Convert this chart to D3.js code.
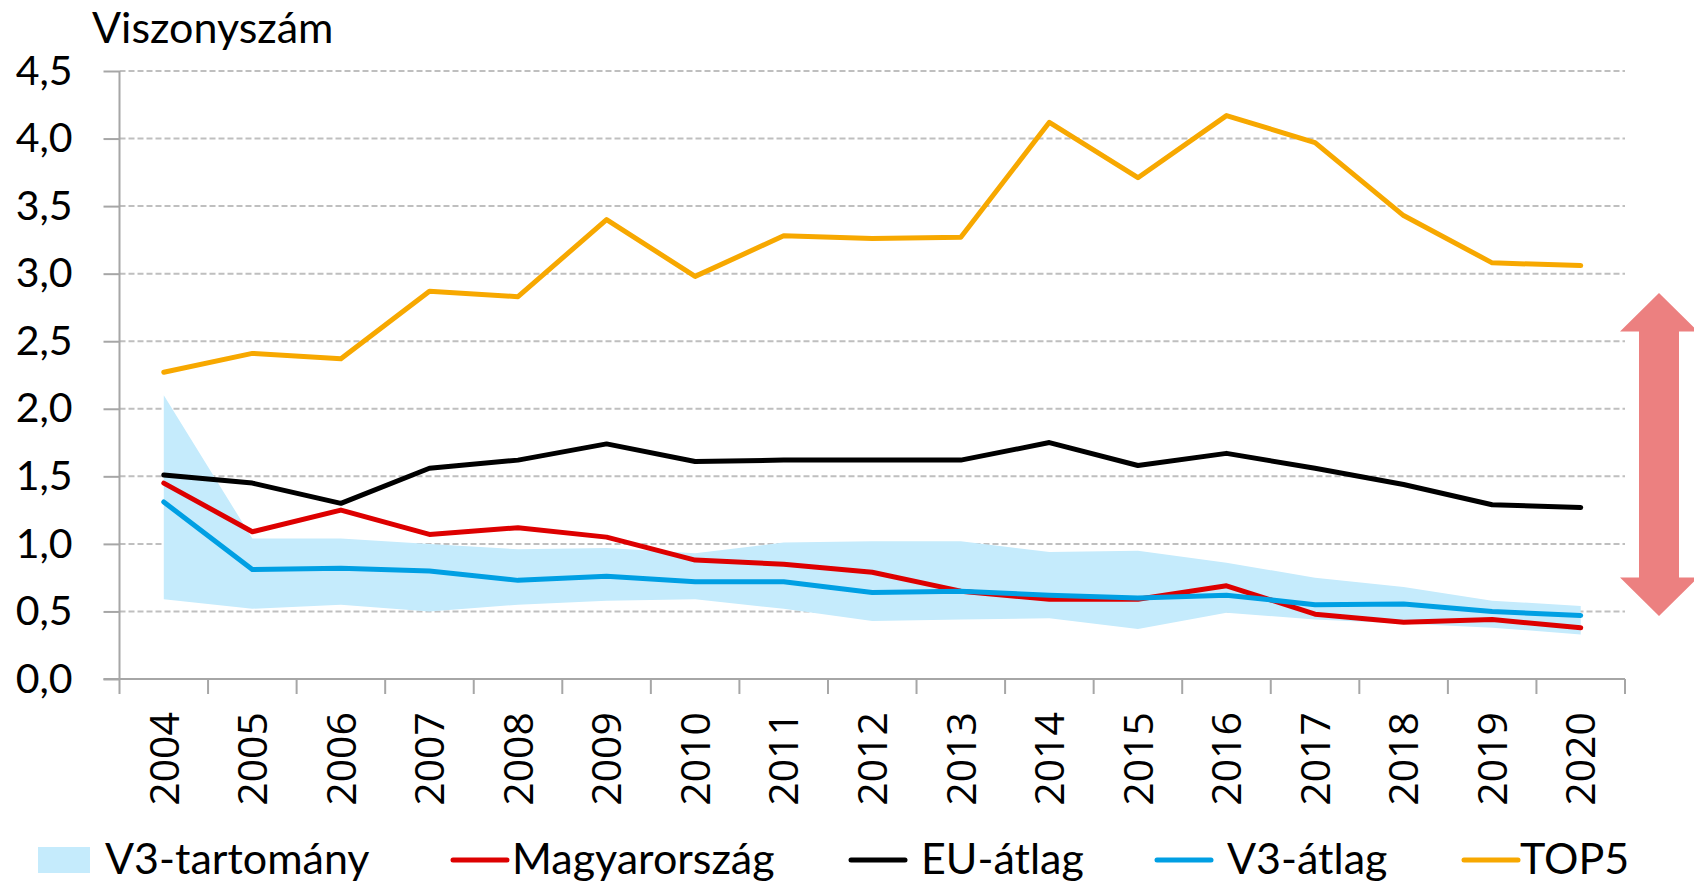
<!DOCTYPE html>
<html>
<head>
<meta charset="utf-8">
<script src="https://cdn.jsdelivr.net/npm/d3@7"></script>
<style>
  body { margin: 0; background: #fff; }
  svg text { font-family: Lato, "Open Sans", sans-serif; fill: #000; }
  .yAxis .domain, .yAxis .tick line { stroke: #a6a6a6; stroke-width: 2; }
  .gridline { stroke: #bfbfbf; stroke-width: 2; stroke-dasharray: 6,3; }
  .series { fill: none; stroke-width: 5; stroke-linejoin: round; stroke-linecap: round; }
</style>
</head>
<body>
<svg id="chart"></svg>
<script>
// Define dimensions for the svg canvas
var width = 1694;
var height = 882;
var margin = {"top": 71, "bottom": 203, "left": 119.5, "right": 69};

var years = ["2004","2005","2006","2007","2008","2009","2010","2011","2012","2013","2014","2015","2016","2017","2018","2019","2020"];
var yTicks = [0, 0.5, 1, 1.5, 2, 2.5, 3, 3.5, 4, 4.5];

// V3-tartomány (min / max)
var v3Low  = [0.59, 0.52, 0.55, 0.50, 0.55, 0.58, 0.59, 0.52, 0.43, 0.44, 0.45, 0.37, 0.49, 0.44, 0.41, 0.38, 0.33];
var v3High = [2.10, 1.04, 1.04, 1.00, 0.96, 0.97, 0.93, 1.01, 1.02, 1.02, 0.94, 0.95, 0.86, 0.75, 0.68, 0.58, 0.54];
var magyar = [1.45, 1.09, 1.25, 1.07, 1.12, 1.05, 0.88, 0.85, 0.79, 0.65, 0.59, 0.59, 0.69, 0.48, 0.42, 0.44, 0.38];
var euAvg  = [1.51, 1.45, 1.30, 1.56, 1.62, 1.74, 1.61, 1.62, 1.62, 1.62, 1.75, 1.58, 1.67, 1.56, 1.44, 1.29, 1.27];
var v3Avg  = [1.31, 0.81, 0.82, 0.80, 0.73, 0.76, 0.72, 0.72, 0.64, 0.65, 0.62, 0.60, 0.62, 0.55, 0.555, 0.50, 0.47];
var top5   = [2.27, 2.41, 2.37, 2.87, 2.83, 3.40, 2.98, 3.28, 3.26, 3.27, 4.12, 3.71, 4.17, 3.97, 3.43, 3.08, 3.06];

var svg = d3.select("svg#chart")
  .attr("width", width)
  .attr("height", height);

var xScale = d3.scaleBand()
  .domain(years)
  .range([margin.left, width - margin.right]);

var yScale = d3.scaleLinear()
  .domain([0, 4.5])
  .range([height - margin.bottom, margin.top]);

var cx = function(i) { return xScale(years[i]) + xScale.bandwidth() / 2; };
var huFormat = d3.formatLocale({decimal: ",", thousands: " ", grouping: [3], currency: ["", ""]}).format(".1f");

// dashed grid lines
svg.selectAll("line.gridline")
  .data(yTicks.slice(1))
  .enter()
  .append("line")
  .attr("class", "gridline")
  .attr("x1", margin.left)
  .attr("x2", width - margin.right)
  .attr("y1", function(d) { return yScale(d); })
  .attr("y2", function(d) { return yScale(d); });

// y axis
var yAxis = d3.axisLeft(yScale)
  .tickValues(yTicks)
  .tickSize(16)
  .tickPadding(31)
  .tickFormat(huFormat);

svg.append("g")
  .attr("class", "yAxis")
  .attr("transform", "translate(" + margin.left + ",0)")
  .call(yAxis)
  .call(function(g) { g.select(".domain").attr("d", "M0," + margin.top + "V" + (height - margin.bottom + 15)); })
  .selectAll("text")
  .style("font-size", "41px")
  .style("font-family", "Lato, sans-serif")
  .attr("fill", "#000");

// x axis line and ticks at category borders
var x0 = height - margin.bottom;
svg.append("line")
  .attr("x1", margin.left - 16)
  .attr("x2", width - margin.right)
  .attr("y1", x0).attr("y2", x0)
  .attr("stroke", "#a6a6a6").attr("stroke-width", 2);

svg.selectAll("line.xtick")
  .data(years.slice(1).concat(["end"]))
  .enter()
  .append("line")
  .attr("class", "xtick")
  .attr("x1", function(d) { return d == "end" ? width - margin.right : xScale(d); })
  .attr("x2", function(d) { return d == "end" ? width - margin.right : xScale(d); })
  .attr("y1", x0).attr("y2", x0 + 15)
  .attr("stroke", "#a6a6a6").attr("stroke-width", 2);

svg.selectAll("text.year")
  .data(years)
  .enter()
  .append("text")
  .attr("class", "year")
  .attr("transform", function(d, i) { return "translate(" + cx(i) + "," + (x0 + 33) + ") rotate(-90)"; })
  .attr("dy", "0.36em")
  .style("text-anchor", "end")
  .style("font-family", "'Open Sans', sans-serif")
  .style("font-size", "41px")
  .text(function(d) { return d; });

// V3 band
var area = d3.area()
  .x(function(d, i) { return cx(i); })
  .y0(function(d, i) { return yScale(v3Low[i]); })
  .y1(function(d, i) { return yScale(v3High[i]); });

svg.append("path")
  .attr("d", area(years))
  .attr("fill", "#c5ebfc");

var line = d3.line()
  .x(function(d, i) { return cx(i); })
  .y(function(d) { return yScale(d); });

var series = [
  {"name": "Magyarország", "data": magyar, "color": "#dd0000"},
  {"name": "EU-átlag", "data": euAvg, "color": "#000000"},
  {"name": "V3-átlag", "data": v3Avg, "color": "#009fe3"},
  {"name": "TOP5", "data": top5, "color": "#f7a800"}
];

// draw order: orange, black, red, blue on top
[3, 1, 0, 2].forEach(function(k) {
  svg.append("path")
    .attr("class", "series")
    .attr("d", line(series[k].data))
    .attr("stroke", series[k].color);
});

// title
svg.append("text")
  .attr("x", 92)
  .attr("y", 43)
  .style("font-size", "43px")
  .text("Viszonyszám");

// double arrow on the right
var ax = 1659, aTop = 293, aBot = 616, head = 38.5, hw = 39, sw = 20;
svg.append("path")
  .attr("d", "M" + ax + "," + aTop +
    "L" + (ax + hw) + "," + (aTop + head) +
    "L" + (ax + sw) + "," + (aTop + head) +
    "L" + (ax + sw) + "," + (aBot - head) +
    "L" + (ax + hw) + "," + (aBot - head) +
    "L" + ax + "," + aBot +
    "L" + (ax - hw) + "," + (aBot - head) +
    "L" + (ax - sw) + "," + (aBot - head) +
    "L" + (ax - sw) + "," + (aTop + head) +
    "L" + (ax - hw) + "," + (aTop + head) + "Z")
  .attr("fill", "#ec8080");

// legend
var legendY = 860;
var legend = svg.append("g").attr("class", "legend");

legend.append("rect")
  .attr("x", 38).attr("y", legendY - 13)
  .attr("width", 52).attr("height", 26)
  .attr("fill", "#c5ebfc");
legend.append("text")
  .attr("x", 105).attr("y", legendY + 14)
  .style("font-size", "43px")
  .text("V3-tartomány");

var legendX = [453, 851, 1157, 1464];
var legend_el = legend.selectAll("g.legend_el")
  .data(series)
  .enter()
  .append("g")
  .attr("class", "legend_el")
  .attr("transform", function(d, i) { return "translate(" + legendX[i] + "," + legendY + ")"; });

legend_el.append("line")
  .attr("x1", 0).attr("x2", 54)
  .attr("stroke", function(d) { return d.color; })
  .attr("stroke-width", 5)
  .attr("stroke-linecap", "round");

legend_el.append("text")
  .attr("x", function(d, i) { return i == 0 ? 59 : (i == 3 ? 56 : 70); })
  .attr("y", 14)
  .style("font-size", "43px")
  .text(function(d) { return d.name; });
</script>
</body>
</html>
